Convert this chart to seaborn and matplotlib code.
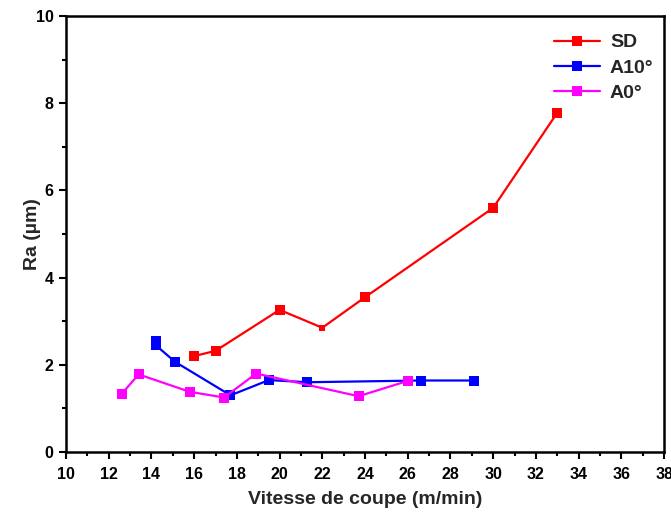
import matplotlib
matplotlib.use("Agg")
import matplotlib.pyplot as plt
from matplotlib.ticker import MultipleLocator
import pandas as pd
import seaborn as sns

# Cutting speed (m/min) and roughness Ra (µm) for each configuration
sd_speed = [16.0, 17.0, 20.0, 22.0, 24.0, 30.0, 33.0]
sd_ra = [2.20, 2.32, 3.26, 2.85, 3.55, 5.60, 7.78]

a10_speed = [14.2, 14.2, 15.1, 17.7, 19.5, 21.3, 26.6, 29.1]
a10_ra = [2.55, 2.45, 2.07, 1.30, 1.65, 1.60, 1.64, 1.64]

a0_speed = [12.6, 13.4, 15.8, 17.4, 18.9, 23.7, 26.0]
a0_ra = [1.33, 1.78, 1.38, 1.25, 1.80, 1.28, 1.63]

series_names = ["SD", "A10°", "A0°"]
series_colors = ["#ff0000", "#0000ff", "#ff00ff"]

# index of the SD point drawn with a reduced marker
sd_small_idx = 3

sns.set_theme(style="ticks")
plt.rcParams["font.family"] = ["Liberation Sans", "DejaVu Sans"]
plt.rcParams["font.weight"] = "bold"

frames = []
for name, xs, ys in zip(series_names,
                        [sd_speed, a10_speed, a0_speed],
                        [sd_ra, a10_ra, a0_ra]):
    frames.append(pd.DataFrame({"speed": xs, "ra": ys, "serie": name}))
df = pd.concat(frames, ignore_index=True)

fig = plt.figure(figsize=(6.71, 5.13), dpi=100)
ax = fig.add_axes([0.0984, 0.1189, 0.8912, 0.8499])

for name, color in zip(series_names, series_colors):
    sub = df[df["serie"] == name].reset_index(drop=True)
    every = list(range(len(sub)))
    if name == "SD":
        every.remove(sd_small_idx)
    sns.lineplot(data=sub, x="speed", y="ra", ax=ax, color=color,
                 sort=False, estimator=None, marker="s", markersize=7.5,
                 markeredgewidth=0, linewidth=1.6, label=name,
                 markevery=every)
    if name == "SD":
        ax.plot(sub["speed"].iloc[sd_small_idx], sub["ra"].iloc[sd_small_idx],
                marker="s", markersize=4.5, markeredgewidth=0, color=color,
                linestyle="none")

ax.set_xlim(10, 38)
ax.set_ylim(0, 10)
ax.xaxis.set_major_locator(MultipleLocator(2))
ax.xaxis.set_minor_locator(MultipleLocator(1))
ax.yaxis.set_major_locator(MultipleLocator(2))
ax.yaxis.set_minor_locator(MultipleLocator(1))
ax.tick_params(axis="both", which="major", direction="out", length=5,
               width=1.5, labelsize=11.5, color="black", labelcolor="black")
ax.tick_params(axis="x", which="major", pad=6)
ax.tick_params(axis="y", which="major", pad=4)
ax.tick_params(axis="both", which="minor", direction="out", length=3,
               width=1.5, color="black")
for lbl in ax.get_xticklabels() + ax.get_yticklabels():
    lbl.set_fontweight("bold")

for side in ["top", "right", "bottom", "left"]:
    ax.spines[side].set_visible(True)
    ax.spines[side].set_linewidth(1.8)
    ax.spines[side].set_color("black")

ax.set_xlabel("Vitesse de coupe (m/min)", fontsize=14, fontweight="bold",
              labelpad=6)
ax.set_ylabel("Ra (µm)", fontsize=14, fontweight="bold", labelpad=-4)

leg = ax.legend(loc="upper right", frameon=False,
                prop={"weight": "bold", "size": 14, "family": "Liberation Sans"},
                handlelength=2.4, handletextpad=0.5, labelspacing=0.4,
                borderaxespad=0.6, bbox_to_anchor=(1.015, 1.004))

fig.savefig("out.png", dpi=100)
